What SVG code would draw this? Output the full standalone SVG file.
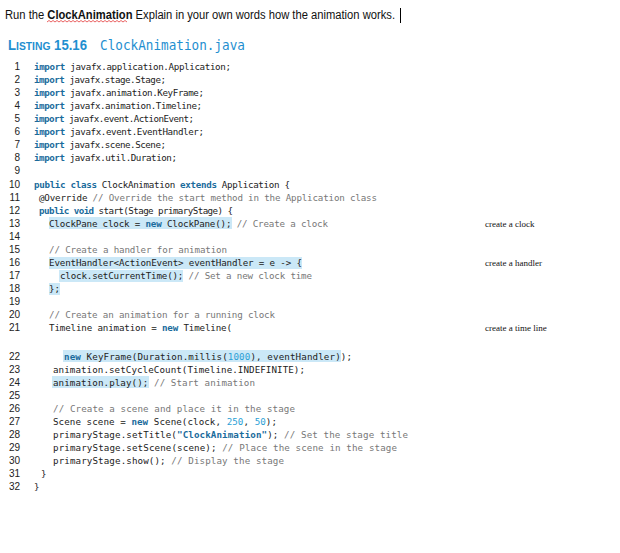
<svg xmlns="http://www.w3.org/2000/svg" width="620" height="553" viewBox="0 0 620 553">
<style>
.c{font-family:"DejaVu Sans Mono","Liberation Mono",monospace;font-size:9.2px;fill:#222}
.n{font-family:"Liberation Sans",sans-serif;font-size:10px;fill:#222;text-anchor:end}
.k{font-weight:bold;fill:#1a6b9c}
.m{fill:#777}
.v{fill:#2b9fd6}
.h{fill:#cbe8f7}
.r{font-family:"Liberation Serif",serif;font-size:9px;fill:#111}
</style>
<rect width="620" height="553" fill="#fff"/>
<text x="5" y="19" font-family="Liberation Sans,sans-serif" font-size="12" fill="#111" textLength="390" lengthAdjust="spacingAndGlyphs">Run the <tspan font-weight="bold">ClockAnimation</tspan>  Explain in your own words how the animation works.</text>
<path d="M47 22 l2 -1.5 l2 1.5 l2 -1.5 l2 1.5 l2 -1.5 l2 1.5 l2 -1.5 l2 1.5 l2 -1.5 l2 1.5 l2 -1.5 l2 1.5 l2 -1.5 l2 1.5 l2 -1.5 l2 1.5 l2 -1.5 l2 1.5 l2 -1.5 l2 1.5 l2 -1.5 l2 1.5 l2 -1.5 l2 1.5 l2 -1.5 l2 1.5 l2 -1.5 l2 1.5 l2 -1.5 l2 1.5 l2 -1.5 l2 1.5 l2 -1.5 l2 1.5 l2 -1.5 l2 1.5 l2 -1.5 l2 1.5 l2 -1.5 l2 1.5" fill="none" stroke="#e02020" stroke-width="0.7"/>
<line x1="400.5" y1="8" x2="400.5" y2="23" stroke="#000"/>
<text x="8" y="50" font-family="Liberation Sans,sans-serif" font-size="14" font-weight="bold" fill="#1f8fd0" textLength="79" lengthAdjust="spacingAndGlyphs">L<tspan font-size="11">ISTING</tspan> 15.16</text>
<text x="100" y="50" font-family="DejaVu Sans Mono,monospace" font-size="13.5" fill="#1f8fd0" textLength="145" lengthAdjust="spacingAndGlyphs">ClockAnimation.java</text>
<g id="highlights">
<rect class="h" x="49" y="217" width="183" height="12"/>
<rect class="h" x="49" y="257" width="253" height="12"/>
<rect class="h" x="59" y="270" width="124" height="12"/>
<rect class="h" x="49" y="283" width="11" height="12"/>
<rect class="h" x="63" y="350" width="278" height="12"/>
<rect class="h" x="52" y="376" width="97" height="12"/>
</g>
<g id="numbers">
<text class="n" x="20" y="70">1</text><text class="n" x="20" y="83">2</text><text class="n" x="20" y="96">3</text><text class="n" x="20" y="109">4</text><text class="n" x="20" y="122">5</text><text class="n" x="20" y="135">6</text><text class="n" x="20" y="148">7</text><text class="n" x="20" y="161">8</text><text class="n" x="20" y="174">9</text>
<text class="n" x="20" y="188">10</text><text class="n" x="20" y="201">11</text><text class="n" x="20" y="214">12</text><text class="n" x="20" y="227">13</text><text class="n" x="20" y="240">14</text><text class="n" x="20" y="253">15</text><text class="n" x="20" y="266">16</text><text class="n" x="20" y="279">17</text><text class="n" x="20" y="292">18</text><text class="n" x="20" y="305">19</text><text class="n" x="20" y="318">20</text><text class="n" x="20" y="331">21</text>
<text class="n" x="20" y="360">22</text><text class="n" x="20" y="373">23</text><text class="n" x="20" y="386">24</text><text class="n" x="20" y="399">25</text><text class="n" x="20" y="412">26</text><text class="n" x="20" y="425">27</text><text class="n" x="20" y="438">28</text><text class="n" x="20" y="451">29</text><text class="n" x="20" y="464">30</text><text class="n" x="20" y="477">31</text><text class="n" x="20" y="490">32</text>
</g>
<g id="code">
<text class="c" x="34" y="70" textLength="197"><tspan class="k">import</tspan> javafx.application.Application;</text>
<text class="c" x="34" y="83" textLength="132"><tspan class="k">import</tspan> javafx.stage.Stage;</text>
<text class="c" x="34" y="96" textLength="170"><tspan class="k">import</tspan> javafx.animation.KeyFrame;</text>
<text class="c" x="34" y="109" textLength="168"><tspan class="k">import</tspan> javafx.animation.Timeline;</text>
<text class="c" x="34" y="122" textLength="160"><tspan class="k">import</tspan> javafx.event.ActionEvent;</text>
<text class="c" x="34" y="135" textLength="170"><tspan class="k">import</tspan> javafx.event.EventHandler;</text>
<text class="c" x="34" y="148" textLength="132"><tspan class="k">import</tspan> javafx.scene.Scene;</text>
<text class="c" x="34" y="161" textLength="143"><tspan class="k">import</tspan> javafx.util.Duration;</text>
<text class="c" x="34" y="188" textLength="256"><tspan class="k">public class</tspan> ClockAnimation <tspan class="k">extends</tspan> Application {</text>
<text class="c" x="39" y="201" textLength="338">@Override <tspan class="m">// Override the start method in the Application class</tspan></text>
<text class="c" x="39" y="214" textLength="194"><tspan class="k">public void</tspan> start(Stage primaryStage) {</text>
<text class="c" x="49" y="227" textLength="279">ClockPane clock = <tspan class="k">new</tspan> ClockPane(); <tspan class="m">// Create a clock</tspan></text>
<text class="c m" x="49" y="253" textLength="178">// Create a handler for animation</text>
<text class="c" x="49" y="266" textLength="253">EventHandler&lt;ActionEvent&gt; eventHandler = e -&gt; {</text>
<text class="c" x="60" y="279" textLength="252">clock.setCurrentTime(); <tspan class="m">// Set a new clock time</tspan></text>
<text class="c" x="49" y="292">};</text>
<text class="c m" x="49" y="318" textLength="226">// Create an animation for a running clock</text>
<text class="c" x="49" y="331" textLength="183">Timeline animation = <tspan class="k">new</tspan> Timeline(</text>
<text class="c" x="64" y="360" textLength="288"><tspan class="k">new</tspan> KeyFrame(Duration.millis(<tspan class="v">1000</tspan>), eventHandler));</text>
<text class="c" x="53" y="373" textLength="252">animation.setCycleCount(Timeline.INDEFINITE);</text>
<text class="c" x="53" y="386" textLength="202">animation.play(); <tspan class="m">// Start animation</tspan></text>
<text class="c m" x="53" y="412" textLength="242">// Create a scene and place it in the stage</text>
<text class="c" x="53" y="425" textLength="224">Scene scene = <tspan class="k">new</tspan> Scene(clock, <tspan class="v">250</tspan>, <tspan class="v">50</tspan>);</text>
<text class="c" x="53" y="438" textLength="355">primaryStage.setTitle(<tspan class="k">"ClockAnimation"</tspan>); <tspan class="m">// Set the stage title</tspan></text>
<text class="c" x="53" y="451" textLength="344">primaryStage.setScene(scene); <tspan class="m">// Place the scene in the stage</tspan></text>
<text class="c" x="53" y="464" textLength="231">primaryStage.show(); <tspan class="m">// Display the stage</tspan></text>
<text class="c" x="41" y="477">}</text>
<text class="c" x="34" y="490">}</text>
</g>
<g id="notes">
<text class="r" x="485" y="227">create a clock</text>
<text class="r" x="485" y="266">create a handler</text>
<text class="r" x="485" y="331">create a time line</text>
</g>
</svg>
